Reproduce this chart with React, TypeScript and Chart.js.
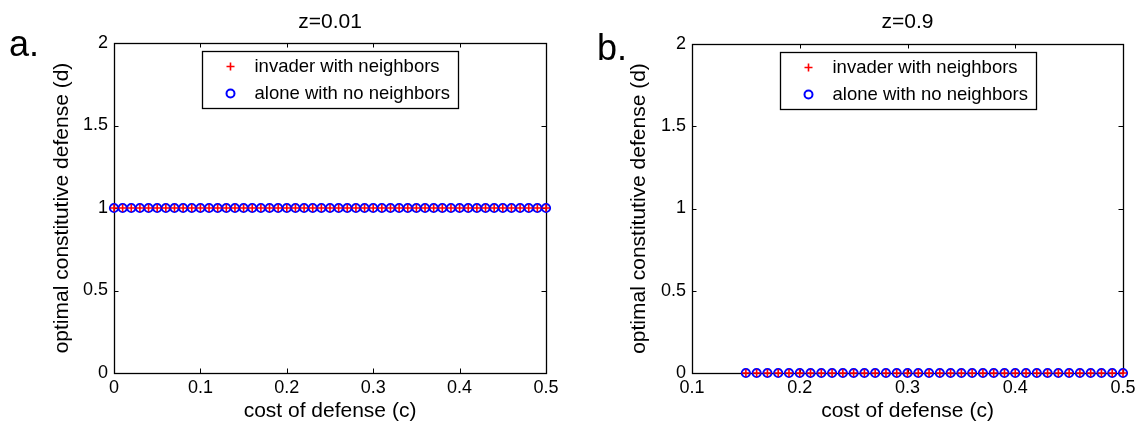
import React, { useEffect, useRef } from "react";
import { Chart, registerables } from "chart.js";

Chart.register(...registerables);

// ---------- data ----------
const costA = [
  0, 0.01, 0.02, 0.03, 0.04, 0.05, 0.06, 0.07, 0.08, 0.09,
  0.1, 0.11, 0.12, 0.13, 0.14, 0.15, 0.16, 0.17, 0.18, 0.19,
  0.2, 0.21, 0.22, 0.23, 0.24, 0.25, 0.26, 0.27, 0.28, 0.29,
  0.3, 0.31, 0.32, 0.33, 0.34, 0.35, 0.36, 0.37, 0.38, 0.39,
  0.4, 0.41, 0.42, 0.43, 0.44, 0.45, 0.46, 0.47, 0.48, 0.49, 0.5,
];
const invaderA = [
  1, 1, 1, 1, 1, 1, 1, 1, 1, 1,
  1, 1, 1, 1, 1, 1, 1, 1, 1, 1,
  1, 1, 1, 1, 1, 1, 1, 1, 1, 1,
  1, 1, 1, 1, 1, 1, 1, 1, 1, 1,
  1, 1, 1, 1, 1, 1, 1, 1, 1, 1, 1,
];
const aloneA = [
  1, 1, 1, 1, 1, 1, 1, 1, 1, 1,
  1, 1, 1, 1, 1, 1, 1, 1, 1, 1,
  1, 1, 1, 1, 1, 1, 1, 1, 1, 1,
  1, 1, 1, 1, 1, 1, 1, 1, 1, 1,
  1, 1, 1, 1, 1, 1, 1, 1, 1, 1, 1,
];
const costB = [
  0.15, 0.16, 0.17, 0.18, 0.19,
  0.2, 0.21, 0.22, 0.23, 0.24, 0.25, 0.26, 0.27, 0.28, 0.29,
  0.3, 0.31, 0.32, 0.33, 0.34, 0.35, 0.36, 0.37, 0.38, 0.39,
  0.4, 0.41, 0.42, 0.43, 0.44, 0.45, 0.46, 0.47, 0.48, 0.49, 0.5,
];
const invaderB = [
  0, 0, 0, 0, 0,
  0, 0, 0, 0, 0, 0, 0, 0, 0, 0,
  0, 0, 0, 0, 0, 0, 0, 0, 0, 0,
  0, 0, 0, 0, 0, 0, 0, 0, 0, 0, 0,
];
const aloneB = [
  0, 0, 0, 0, 0,
  0, 0, 0, 0, 0, 0, 0, 0, 0, 0,
  0, 0, 0, 0, 0, 0, 0, 0, 0, 0,
  0, 0, 0, 0, 0, 0, 0, 0, 0, 0, 0,
];
const xTicksA = [0, 0.1, 0.2, 0.3, 0.4, 0.5];
const xTicksB = [0.1, 0.2, 0.3, 0.4, 0.5];
const yTicks = [0, 0.5, 1, 1.5, 2];
const seriesLabels = ["invader with neighbors", "alone with no neighbors"];
const panelTitles = ["z=0.01", "z=0.9"];
const panelLetters = ["a.", "b."];
const xAxisTitle = "cost of defense (c)";
const yAxisTitle = "optimal constitutive defense (d)";

const FONT = "'Liberation Sans', Arial, Helvetica, sans-serif";
const RED = "#ff0000";
const BLUE = "#0000ff";

type PanelCfg = {
  cost: number[];
  invader: number[];
  alone: number[];
  xTicks: number[];
  xMin: number;
  xMax: number;
  title: string;
  letter: string;
  canvasLeft: number;
  canvasWidth: number;
  plotLeft: number;
  plotRight: number;
  plotTop: number;
  plotBottom: number;
  yTitleCenter: number;
  letterX: number;
  letterY: number;
};

const H = 425;

const panels: PanelCfg[] = [
  {
    cost: costA, invader: invaderA, alone: aloneA, xTicks: xTicksA, xMin: 0, xMax: 0.5,
    title: panelTitles[0], letter: panelLetters[0],
    canvasLeft: 0, canvasWidth: 573,
    plotLeft: 114, plotRight: 546, plotTop: 43, plotBottom: 373,
    yTitleCenter: 62, letterX: 9, letterY: 56,
  },
  {
    cost: costB, invader: invaderB, alone: aloneB, xTicks: xTicksB, xMin: 0.1, xMax: 0.5,
    title: panelTitles[1], letter: panelLetters[1],
    canvasLeft: 573, canvasWidth: 574,
    plotLeft: 119, plotRight: 550, plotTop: 44, plotBottom: 373,
    yTitleCenter: 66, letterX: 24, letterY: 60,
  },
];

function Panel({ cfg }: { cfg: PanelCfg }) {
  const ref = useRef<HTMLCanvasElement | null>(null);
  useEffect(() => {
    const canvas = ref.current;
    if (!canvas) return;
    const decor = {
      id: "decor",
      beforeDatasetsDraw(chart: any) {
        const { ctx, chartArea } = chart;
        const { left, right, top, bottom } = chartArea;
        const xs = chart.scales.x;
        const ys = chart.scales.y;
        ctx.save();
        // box
        ctx.strokeStyle = "#000";
        ctx.lineWidth = 1.3;
        ctx.strokeRect(Math.round(left) + 0.5, Math.round(top) + 0.5, Math.round(right - left), Math.round(bottom - top));
        // inward ticks
        const tl = 4.5;
        ctx.lineWidth = 1;
        ctx.beginPath();
        cfg.xTicks.forEach((v) => {
          const px = Math.round(xs.getPixelForValue(v)) + 0.5;
          ctx.moveTo(px, bottom);
          ctx.lineTo(px, bottom - tl);
          ctx.moveTo(px, top);
          ctx.lineTo(px, top + tl);
        });
        yTicks.forEach((v) => {
          const py = Math.round(ys.getPixelForValue(v)) + 0.5;
          ctx.moveTo(left, py);
          ctx.lineTo(left + tl, py);
          ctx.moveTo(right, py);
          ctx.lineTo(right - tl, py);
        });
        ctx.stroke();
        ctx.restore();
      },
      afterDraw(chart: any) {
        const { ctx, chartArea } = chart;
        const { left, right, top } = chartArea;
        ctx.save();
        // title
        ctx.fillStyle = "#000";
        ctx.font = `21px ${FONT}`;
        ctx.textAlign = "center";
        ctx.textBaseline = "middle";
        ctx.fillText(cfg.title, (left + right) / 2, 22);
        // panel letter
        ctx.font = `36px ${FONT}`;
        ctx.textAlign = "left";
        ctx.textBaseline = "alphabetic";
        ctx.fillText(cfg.letter, cfg.letterX, cfg.letterY);
        // legend
        const bw = 256;
        const bh = 57;
        const bx = Math.round((left + right) / 2 - bw / 2) + 0.5;
        const by = Math.round(top + 8) + 0.5;
        ctx.fillStyle = "#fff";
        ctx.fillRect(bx, by, bw, bh);
        ctx.strokeStyle = "#000";
        ctx.lineWidth = 1.3;
        ctx.strokeRect(bx, by, bw, bh);
        const mx = bx + 28;
        const tx = bx + 52;
        const r1 = by + 15;
        const r2 = by + 42;
        // plus marker
        ctx.strokeStyle = RED;
        ctx.lineWidth = 1.6;
        ctx.beginPath();
        ctx.moveTo(mx - 4, r1);
        ctx.lineTo(mx + 4, r1);
        ctx.moveTo(mx, r1 - 4);
        ctx.lineTo(mx, r1 + 4);
        ctx.stroke();
        // circle marker
        ctx.strokeStyle = BLUE;
        ctx.lineWidth = 2;
        ctx.beginPath();
        ctx.arc(mx, r2, 4, 0, Math.PI * 2);
        ctx.stroke();
        ctx.fillStyle = "#000";
        ctx.font = `18.5px ${FONT}`;
        ctx.textBaseline = "middle";
        ctx.fillText(seriesLabels[0], tx, r1);
        ctx.fillText(seriesLabels[1], tx, r2);
        ctx.restore();
      },
    };

    const chart = new Chart(canvas, {
      type: "scatter",
      data: {
        datasets: [
          {
            label: seriesLabels[0],
            data: cfg.cost.map((c, i) => ({ x: c, y: cfg.invader[i] })),
            pointStyle: "cross",
            pointRadius: 3.8,
            pointBorderWidth: 1.6,
            borderColor: RED,
            backgroundColor: RED,
            showLine: false,
            clip: false,
          },
          {
            label: seriesLabels[1],
            data: cfg.cost.map((c, i) => ({ x: c, y: cfg.alone[i] })),
            pointStyle: "circle",
            pointRadius: 4.1,
            pointBorderWidth: 2,
            borderColor: BLUE,
            backgroundColor: "rgba(0,0,0,0)",
            showLine: false,
            clip: false,
          },
        ],
      },
      options: {
        responsive: false,
        animation: false,
        devicePixelRatio: 1,
        layout: {
          padding: {
            left: 0,
            top: cfg.plotTop,
            right: cfg.canvasWidth - cfg.plotRight,
            bottom: 0,
          },
        },
        plugins: {
          legend: { display: false },
          title: { display: false },
          tooltip: { enabled: false },
        },
        events: [],
        scales: {
          x: {
            type: "linear",
            min: cfg.xMin,
            max: cfg.xMax,
            grid: { display: false, drawTicks: false },
            border: { display: false },
            afterBuildTicks: (scale: any) => {
              scale.ticks = cfg.xTicks.map((v) => ({ value: v }));
            },
            afterFit: (scale: any) => {
              scale.height = H - cfg.plotBottom;
            },
            ticks: {
              color: "#000",
              padding: 4,
              maxRotation: 0,
              autoSkip: false,
              font: { family: FONT, size: 18 },
              callback: (v: any) => String(v),
            },
            title: {
              display: true,
              text: xAxisTitle,
              color: "#000",
              font: { family: FONT, size: 21 },
              padding: { top: 0, bottom: 1 },
            },
          },
          y: {
            type: "linear",
            min: 0,
            max: 2,
            grid: { display: false, drawTicks: false },
            border: { display: false },
            afterBuildTicks: (scale: any) => {
              scale.ticks = yTicks.map((v) => ({ value: v }));
            },
            afterFit: (scale: any) => {
              scale.width = cfg.plotLeft;
            },
            ticks: {
              color: "#000",
              padding: 6,
              autoSkip: false,
              font: { family: FONT, size: 18 },
              callback: (v: any) => String(v),
            },
            title: {
              display: true,
              text: yAxisTitle,
              color: "#000",
              font: { family: FONT, size: 21 },
              padding: { top: cfg.yTitleCenter - 12.6, bottom: 0 },
            },
          },
        },
      },
      plugins: [decor],
    });
    return () => chart.destroy();
  }, [cfg]);

  return (
    <canvas
      ref={ref}
      width={cfg.canvasWidth}
      height={H}
      style={{
        position: "absolute",
        left: cfg.canvasLeft,
        top: 0,
        width: cfg.canvasWidth,
        height: H,
      }}
    />
  );
}

export default function App() {
  return (
    <div
      style={{
        position: "absolute",
        left: 0,
        top: 0,
        width: 1147,
        height: H,
        background: "#fff",
        overflow: "hidden",
      }}
    >
      {panels.map((p, i) => (
        <Panel key={i} cfg={p} />
      ))}
    </div>
  );
}
